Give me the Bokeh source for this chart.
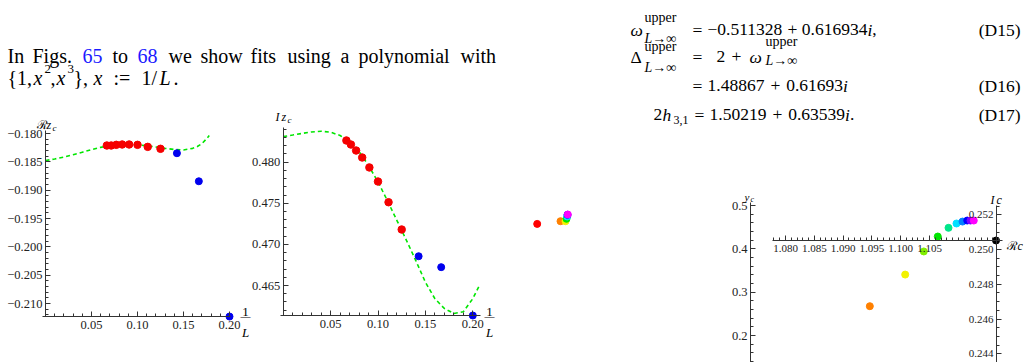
from bokeh.plotting import figure
from bokeh.models import Range1d, LinearAxis, FixedTicker
from bokeh.core.properties import value
from bokeh.embed import file_html
from bokeh.resources import INLINE

W, H = 1028, 362
SERIF = "Liberation Serif"

# ---------------------------------------------------------------- data
# lattice sizes: the red ones enter the fit, the blue ones do not
L_fit = [15, 14, 13, 12, 11, 10, 9, 8]
L_rest = [7, 6, 5]

re_zc_fit = [-0.18212, -0.18212, -0.18200, -0.18194, -0.18194, -0.18200, -0.18236, -0.18270]
re_zc_rest = [-0.18348, -0.18843, -0.21230]
im_zc_fit = [0.48264, 0.48215, 0.48142, 0.48057, 0.47936, 0.47765, 0.47513, 0.47181]
im_zc_rest = [0.46856, 0.46723, 0.46135]

# fitted curves, sampled along x = 1/L
re_curve_x = [0.0, 0.01, 0.02, 0.03, 0.04, 0.05, 0.06, 0.07, 0.08, 0.09, 0.10,
              0.11, 0.12, 0.13, 0.14, 0.15, 0.16, 0.165, 0.17, 0.175, 0.178]
re_curve_y = [-0.18477, -0.18450, -0.18415, -0.18375, -0.18330, -0.18285, -0.18245,
              -0.18215, -0.18200, -0.18195, -0.18200, -0.18215, -0.18238, -0.18262,
              -0.18282, -0.18290, -0.18262, -0.18230, -0.18180, -0.18095, -0.18035]
im_curve_x = [0.0, 0.01, 0.02, 0.03, 0.04, 0.05, 0.06, 0.07, 0.08, 0.09, 0.10, 0.11,
              0.12, 0.13, 0.14, 0.15, 0.16, 0.17, 0.18, 0.19, 0.20, 0.207]
im_curve_y = [0.48312, 0.48330, 0.48350, 0.48368, 0.48377, 0.48365, 0.48325, 0.48250,
              0.48130, 0.47960, 0.47760, 0.47530, 0.47290, 0.47050, 0.46800, 0.46540,
              0.46340, 0.46220, 0.46160, 0.46180, 0.46340, 0.46500]

# crossing point in the complex plane, one hue per lattice size
rc_vals = [1.09464, 1.10078, 1.10401, 1.10644, 1.10830, 1.10969, 1.11073, 1.11155, 1.11212, 1.11269]
ic_vals = [0.24674, 0.24856, 0.24989, 0.25075, 0.25125, 0.25150, 0.25161, 0.25167, 0.25167, 0.25167]
rc_colors = ["#ff8000", "#f2f200", "#80ee00", "#00e600", "#00e68a", "#00e0ff",
             "#0080ff", "#0000ff", "#8000ff", "#ff00ff"]
rc_limit, ic_limit = 1.11655, 0.25052

# overview of the same sequence on a wider scale
ov_re = [1.08299, 1.09464, 1.09714, 1.09764, 1.09799, 1.09814, 1.09829]
ov_im = [0.24620, 0.24674, 0.24674, 0.24722, 0.24768, 0.24802, 0.24808]
ov_colors = ["#ff0000", "#ff8000", "#f2f200", "#00e600", "#00e0ff", "#0000ff", "#ff00ff"]

# ticks
invL_ticks = [0.05, 0.10, 0.15, 0.20]
invL_labels = ["0.05", "0.10", "0.15", "0.20"]
re_ticks = [-0.210, -0.205, -0.200, -0.195, -0.190, -0.185, -0.180]
re_labels = ["\u22120.210", "\u22120.205", "\u22120.200", "\u22120.195", "\u22120.190", "\u22120.185", "\u22120.180"]
im_ticks = [0.465, 0.470, 0.475, 0.480]
im_labels = ["0.465", "0.470", "0.475", "0.480"]
rc_ticks = [1.080, 1.085, 1.090, 1.095, 1.100, 1.105]
rc_labels = ["1.080", "1.085", "1.090", "1.095", "1.100", "1.105"]
ic_ticks = [0.244, 0.246, 0.248, 0.250, 0.252]
ic_labels = ["0.244", "0.246", "0.248", "0.250", "0.252"]
yc_ticks = [0.2, 0.3, 0.4, 0.5]
yc_labels = ["0.2", "0.3", "0.4", "0.5"]


def steps(a, b, d):
    n = int(round((b - a) / d))
    return [round(a + i * d, 6) for i in range(n + 1)]


# ---------------------------------------------------------------- page scales
def xspan(v0, p0, v1, p1):
    k = (p1 - p0) / (v1 - v0)
    return Range1d(start=v0 - p0 / k, end=v0 + (W - p0) / k)


def yspan(v0, p0, v1, p1):
    q0, q1 = H - p0, H - p1
    k = (q1 - q0) / (v1 - v0)
    return Range1d(start=v0 - q0 / k, end=v0 + (H - q0) / k)


p = figure(width=W, height=H, x_range=Range1d(0, W), y_range=Range1d(H, 0),
           output_backend="svg", toolbar_location=None, min_border=0,
           x_axis_location=None, y_axis_location=None)
p.grid.visible = False
p.outline_line_color = None
p.background_fill_color = "white"
p.border_fill_color = "white"

p.extra_x_ranges = {
    "p1x": xspan(0.0, 45.0, 0.2, 229.0),
    "p2x": xspan(0.0, 282.7, 0.2, 472.3),
    "rc": xspan(1.080, 785.0, 1.105, 929.0),
    "ovx": xspan(1.09464, 560.0, 1.09964, 570.0),
}
p.extra_y_ranges = {
    "p1y": yspan(-0.180, 133.0, -0.195, 218.0),
    "p2y": yspan(0.480, 161.7, 0.465, 285.0),
    "ic": yspan(0.252, 214.3, 0.244, 353.3),
    "yc": yspan(0.5, 205.0, 0.2, 335.0),
    "ovy": yspan(0.24674, 220.7, 0.24774, 215.7),
}

AX = "#333333"


def axis(side, xr, yr, at, bounds, ticks, labels, minor, size="12.5px", standoff=3):
    ax = LinearAxis(x_range_name=xr, y_range_name=yr, fixed_location=at, bounds=bounds,
                    ticker=FixedTicker(ticks=ticks, minor_ticks=minor),
                    major_label_overrides=dict(zip(ticks, labels)))
    ax.axis_line_color = AX
    ax.major_tick_line_color = AX
    ax.minor_tick_line_color = AX
    ax.major_tick_in, ax.major_tick_out = 5, 0
    ax.minor_tick_in, ax.minor_tick_out = 3, 0
    ax.major_label_text_font = SERIF
    ax.major_label_text_font_size = size
    ax.major_label_text_color = "#222222"
    ax.major_label_standoff = standoff
    p.add_layout(ax, side)
    return ax


# ---------------------------------------------------------------- Re z_c vs 1/L
axis("below", "p1x", "p1y", re_zc_rest[-1], (-0.003, 0.2015), invL_ticks, invL_labels,
     steps(0.01, 0.20, 0.01), standoff=4)
axis("left", "p1x", "p1y", 0.0, (re_zc_rest[-1], -0.1795), re_ticks, re_labels,
     steps(-0.212, -0.180, 0.001))
p.line(re_curve_x, re_curve_y, x_range_name="p1x", y_range_name="p1y",
       line_color="#00e600", line_width=1.6, line_dash="4 3")
p.scatter([1 / L for L in L_fit], re_zc_fit, x_range_name="p1x", y_range_name="p1y",
          size=7.5, fill_color="#f50000", line_color="#f50000")
p.scatter([1 / L for L in L_rest], re_zc_rest, x_range_name="p1x", y_range_name="p1y",
          size=7, fill_color="#0000ee", line_color="#0000ee")

# ---------------------------------------------------------------- Im z_c vs 1/L
axis("below", "p2x", "p2y", im_zc_rest[-1] - 0.00004, (-0.003, 0.2085), invL_ticks, invL_labels,
     steps(0.01, 0.20, 0.01), standoff=4)
axis("left", "p2x", "p2y", 0.0, (im_zc_rest[-1] - 0.00004, 0.48418), im_ticks, im_labels,
     steps(0.462, 0.484, 0.001))
p.line(im_curve_x, im_curve_y, x_range_name="p2x", y_range_name="p2y",
       line_color="#00e600", line_width=1.6, line_dash="4 3")
p.scatter([1 / L for L in L_fit], im_zc_fit, x_range_name="p2x", y_range_name="p2y",
          size=7.5, fill_color="#f50000", line_color="#f50000")
p.scatter([1 / L for L in L_rest], im_zc_rest, x_range_name="p2x", y_range_name="p2y",
          size=7, fill_color="#0000ee", line_color="#0000ee")

# ---------------------------------------------------------------- overview cluster
p.scatter(ov_re, ov_im, x_range_name="ovx", y_range_name="ovy", size=7,
          fill_color=ov_colors, line_color=ov_colors)

# ---------------------------------------------------------------- y_c and (Rc, Ic)
axis("left", "default", "yc", 750, (0.1377, 0.5069), yc_ticks, yc_labels,
     steps(0.14, 0.50, 0.02), size="12.5px")
axis("below", "rc", "ic", ic_limit, (1.0777, 1.1177), rc_ticks, rc_labels,
     steps(1.078, 1.117, 0.001), size="11px", standoff=4)
axis("left", "rc", "ic", 1.11663, (0.2435, 0.25254), ic_ticks, ic_labels,
     steps(0.2435, 0.2525, 0.0005), size="11px")
p.scatter(rc_vals, ic_vals, x_range_name="rc", y_range_name="ic", size=7,
          fill_color=rc_colors, line_color=rc_colors)
p.scatter([rc_limit], [ic_limit], x_range_name="rc", y_range_name="ic", size=7,
          fill_color="black", line_color="black")


# ---------------------------------------------------------------- text
def put(x, y, s, size=20, style="normal", color="black", align="left",
        baseline="alphabetic", font=SERIF):
    p.text(x=[x], y=[y], text=[s], text_font=value(font), text_font_size=f"{size}px",
           text_font_style=style, text_color=color, text_align=align,
           text_baseline=baseline)


LINK = "#1a1aff"
words = [("In", 7), ("Figs.", 32), ("65", 82), ("to", 112), ("68", 137), ("we", 168),
         ("show", 200), ("fits", 250), ("using", 287), ("a", 340), ("polynomial", 358),
         ("with", 460)]
for w, x in words:
    put(x, 55, w, color=LINK if w in ("65", "68") else "black")

put(7, 77, "{1,")
put(33, 77, "x", style="italic")
put(44, 68, "2", size=13)
put(50, 77, ",")
put(56, 77, "x", style="italic")
put(67, 68, "3", size=13)
put(73, 77, "},")
put(93, 77, "x", style="italic")
put(113, 77, ":=")
put(141, 77, "1/")
put(159, 77, "L", style="italic")
put(173, 77, ".")

EQ = 17.5
SC = 14
# advance widths (em) of the serif face, used to set equation pieces in a row
ADV = {**{d: 0.5 for d in "0123456789"}, ".": 0.25, ",": 0.25, "\u2212": 0.564,
       "+": 0.564, "=": 0.564, "i": 0.278}


def eq_run(x, y, parts, gap=4.5):
    for s, st, spaced in parts:
        if spaced:
            x += gap
        put(x, y, s, size=EQ, style=st)
        x += sum(ADV.get(c, 0.5) for c in s) * EQ
        if spaced:
            x += gap


# (D15)
put(630, 29, "\u03c9", size=EQ, style="italic")
put(644, 17, "upper", size=SC)
put(644, 38, "L\u2192\u221e", size=SC, style="italic")
put(692, 29, "=", size=EQ)
eq_run(707, 29, [("\u22120.511328", "normal", False), ("+", "normal", True),
                 ("0.616934", "normal", False), ("i", "italic", False), (",", "normal", False)])
put(1020, 29, "(D15)", size=EQ, align="right")
# (D16)
put(630, 56, "\u0394", size=EQ)
put(644, 46, "upper", size=SC)
put(644, 67, "L\u2192\u221e", size=SC, style="italic")
put(692, 56, "=", size=EQ)
put(716, 56, "2", size=EQ)
put(731, 56, "+", size=EQ)
put(749, 56, "\u03c9", size=EQ, style="italic")
put(765, 41, "upper", size=SC)
put(765, 60, "L\u2192\u221e", size=SC, style="italic")
put(692, 85, "=", size=EQ)
eq_run(707, 85, [("1.48867", "normal", False), ("+", "normal", True),
                 ("0.61693", "normal", False), ("i", "italic", False)], gap=6)
put(1020, 85, "(D16)", size=EQ, align="right")
# (D17)
put(653, 114, "2", size=EQ)
put(662, 114, "h", size=EQ, style="italic")
put(673, 119, "3,1", size=12)
put(694, 114, "=", size=EQ)
eq_run(709, 114, [("1.50219", "normal", False), ("+", "normal", True),
                  ("0.63539", "normal", False), ("i", "italic", False), (".", "normal", False)], gap=6)
put(1020, 114, "(D17)", size=EQ, align="right")

# axis captions
put(36, 124, "\u211b", size=12, font="DejaVu Serif")
put(46, 124, "z", size=12, style="italic")
put(52, 127, "c", size=9, style="italic")
put(275, 116, "I", size=12, style="italic")
put(281, 116, "z", size=12, style="italic")
put(287, 119, "c", size=9, style="italic")
for cx in (245, 489):
    put(cx, 311, "1", size=13, align="center")
    put(cx, 316, "\u2014", size=10, align="center", baseline="middle")
    put(cx, 332, "L", size=13, style="italic", align="center")
put(744, 196, "y", size=11, style="italic")
put(750, 199, "c", size=8, style="italic")
put(990, 199, "I", size=12, style="italic")
put(996, 199, "c", size=12, style="italic")
put(1006, 245, "\u211b", size=12, font="DejaVu Serif")
put(1017, 245, "c", size=12, style="italic")

open("out.html", "w").write(file_html(p, INLINE))
